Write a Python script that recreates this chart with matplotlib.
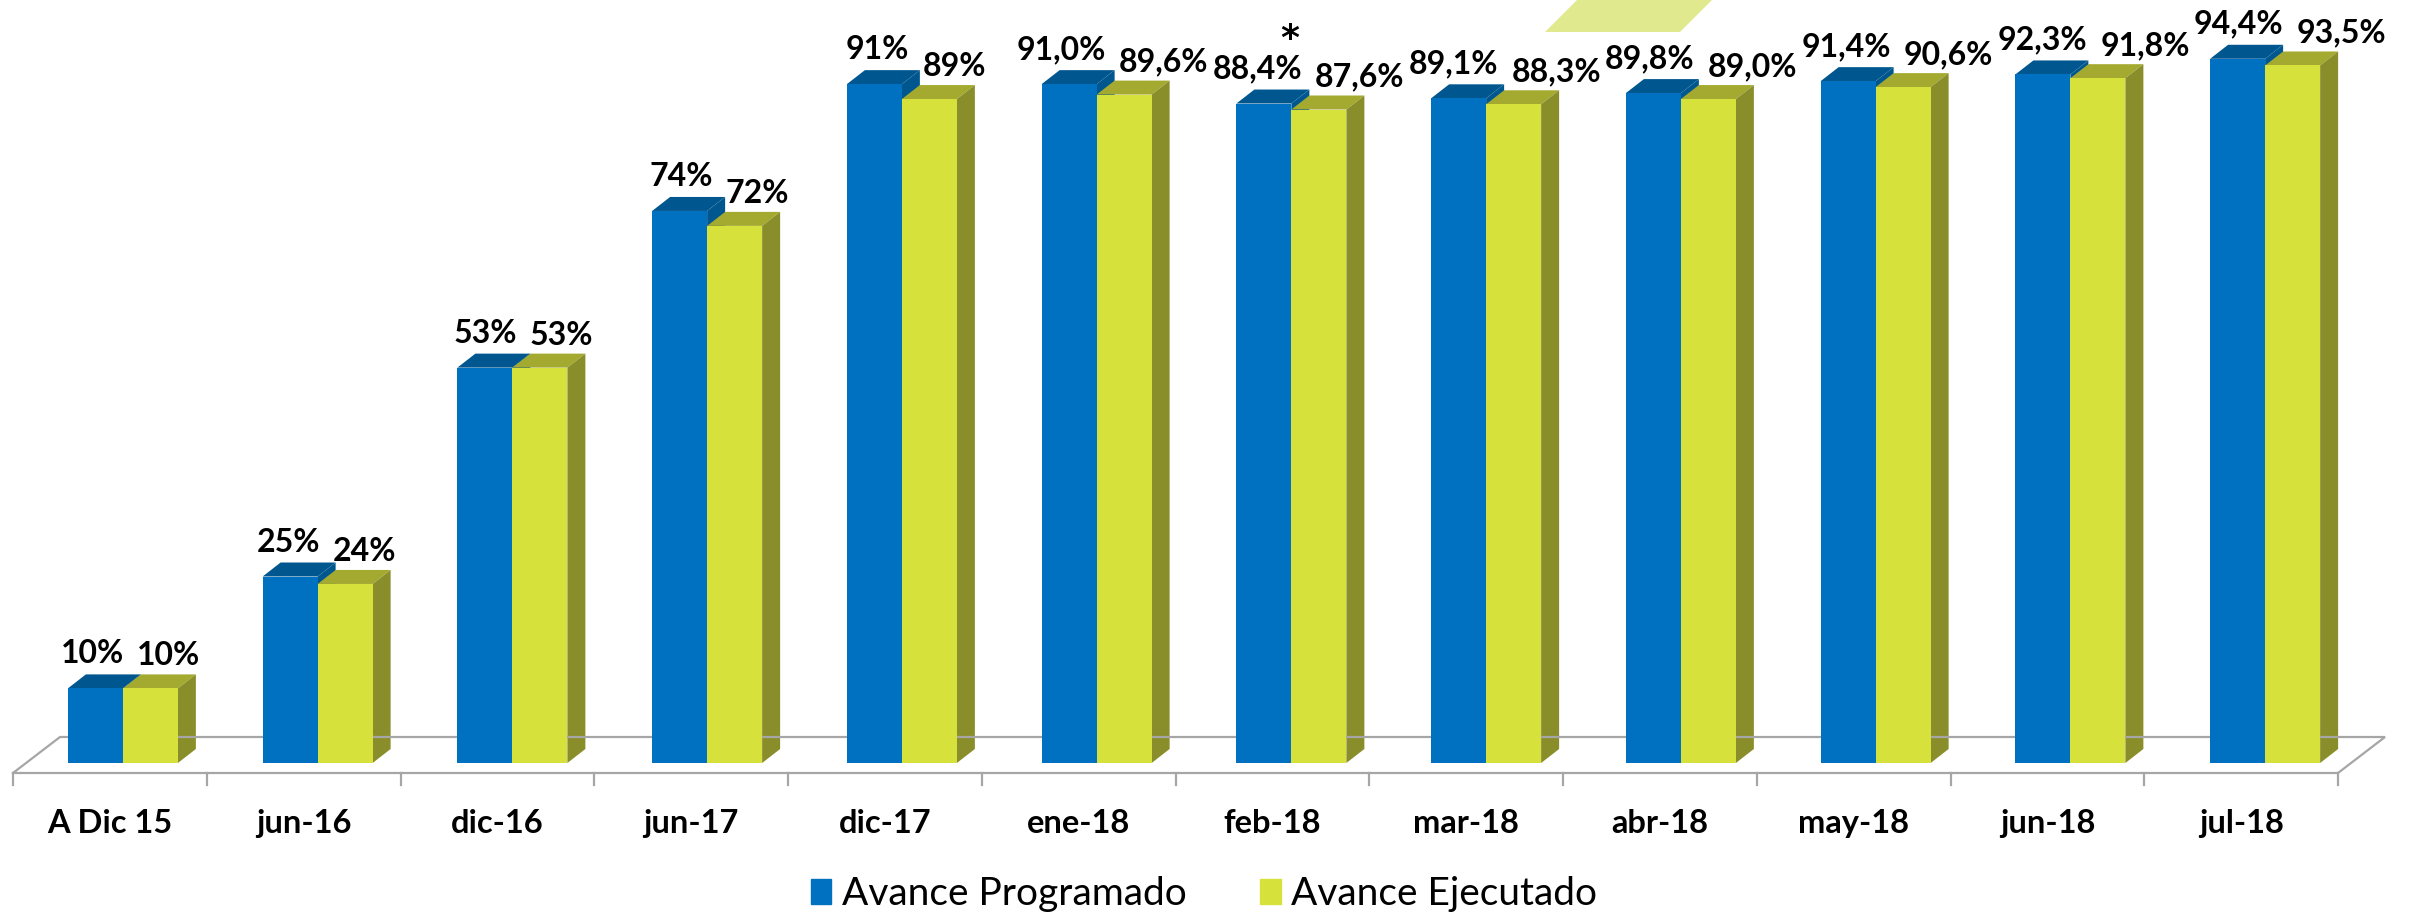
import matplotlib.pyplot as plt
import numpy as np
from matplotlib.patches import Polygon, Patch

# datos
categorias = ["A Dic 15", "jun-16", "dic-16", "jun-17", "dic-17", "ene-18",
              "feb-18", "mar-18", "abr-18", "may-18", "jun-18", "jul-18"]
programado = [10, 25, 53, 74, 91, 91.0, 88.4, 89.1, 89.8, 91.4, 92.3, 94.4]
ejecutado = [10, 24, 53, 72, 89, 89.6, 87.6, 88.3, 89.0, 90.6, 91.8, 93.5]
etiq_prog = ["10%", "25%", "53%", "74%", "91%", "91,0%", "88,4%", "89,1%",
             "89,8%", "91,4%", "92,3%", "94,4%"]
etiq_ejec = ["10%", "24%", "53%", "72%", "89%", "89,6%", "87,6%", "88,3%",
             "89,0%", "90,6%", "91,8%", "93,5%"]
notas = ["", "", "", "", "", "", "*", "", "", "", "", ""]
series = ["Avance Programado", "Avance Ejecutado"]

# colores
azul, azul_top = "#0070C0", "#00578F"
verde, verde_top, verde_lado = "#D7E13C", "#A4AA30", "#8A8E2A"
gris = "#A6A6A6"

# geometria en pixeles
W, H = 2415, 918
STEP = 193.75   # px por categoria
X0 = 13         # borde izq del piso
BASE = 763      # y (desde arriba) del 0%
PXP = 7.46      # px por 1%

def px(p):
    return p / STEP

def py(p):
    return p / PXP

fig = plt.figure(figsize=(W / 100, H / 100), dpi=100)
ax = fig.add_axes([0, 0, 1, 1])
ax.set_xlim(-X0 / STEP - 0.5, (W - X0) / STEP - 0.5)
ax.set_ylim(-(H - BASE) / PXP, BASE / PXP)
ax.axis("off")

n = len(categorias)
x = np.arange(n)

# piso
yf, yb, dxf = -py(10), py(26), px(47)
ax.plot([-0.5, n - 0.5, n - 0.5 + dxf, -0.5 + dxf, -0.5],
        [yf, yf, yb, yb, yf], color=gris, lw=1.6, solid_joinstyle="miter")
for i in range(n + 1):
    ax.plot([i - 0.5, i - 0.5], [yf, yf - py(12)], color=gris, lw=1.6)

w = px(55)
dx, dy = px(18), py(14)
izq = x - px(42 - x)   # leve corrimiento de perspectiva

def caras(x0, h, c_top, c_side):
    ax.add_patch(Polygon([(x0, h), (x0 + w, h), (x0 + w + dx, h + dy), (x0 + dx, h + dy)],
                         closed=True, fc=c_top, ec="none"))
    ax.add_patch(Polygon([(x0 + w, 0), (x0 + w + dx, dy), (x0 + w + dx, h + dy), (x0 + w, h)],
                         closed=True, fc=c_side, ec="none"))

for i in range(n):
    caras(izq[i], programado[i], azul_top, azul_top)
    ax.bar(izq[i], programado[i], width=w, align="edge", color=azul, zorder=2)
    caras(izq[i] + w, ejecutado[i], verde_top, verde_lado)
    ax.bar(izq[i] + w, ejecutado[i], width=w, align="edge", color=verde, zorder=2)

# etiquetas
fnt = dict(family="Lato", fontweight="bold", color="black")
for i in range(n):
    j = izq[i] + w
    yp = programado[i] + py(14 + 11)
    ye = ejecutado[i] + py(14 + 9)
    ax.text(j + px(1 + 1.6 * i), yp, etiq_prog[i], ha="right", va="baseline", fontsize=23, **fnt)
    ax.text(j + px(14 + 1.6 * i), ye, etiq_ejec[i], ha="left", va="baseline", fontsize=23, **fnt)
    if notas[i]:
        ax.text(j - px(2), yp + py(57), notas[i], ha="center", va="top", fontsize=26,
                family="DejaVu Sans", fontweight="bold")
    ax.text(x[i], -py(70), categorias[i], ha="center", va="baseline", fontsize=23.5, **fnt)

# forma decorativa arriba
fig.add_artist(Polygon([(1545 / W, 886 / H), (1680 / W, 886 / H), (1712 / W, 1.0), (1577 / W, 1.0)],
                       closed=True, fc="#E1E98F", ec="none", transform=fig.transFigure))

handles = [Patch(color=azul), Patch(color=verde)]
leg = ax.legend(handles, series, loc="center", bbox_to_anchor=(1204 / W, 24 / H),
                bbox_transform=fig.transFigure, ncol=2, frameon=False,
                prop=dict(family="Lato", size=28), handlelength=0.52, handleheight=0.62,
                handletextpad=0.28, columnspacing=1.9)

fig.savefig("out.png", dpi=100)
